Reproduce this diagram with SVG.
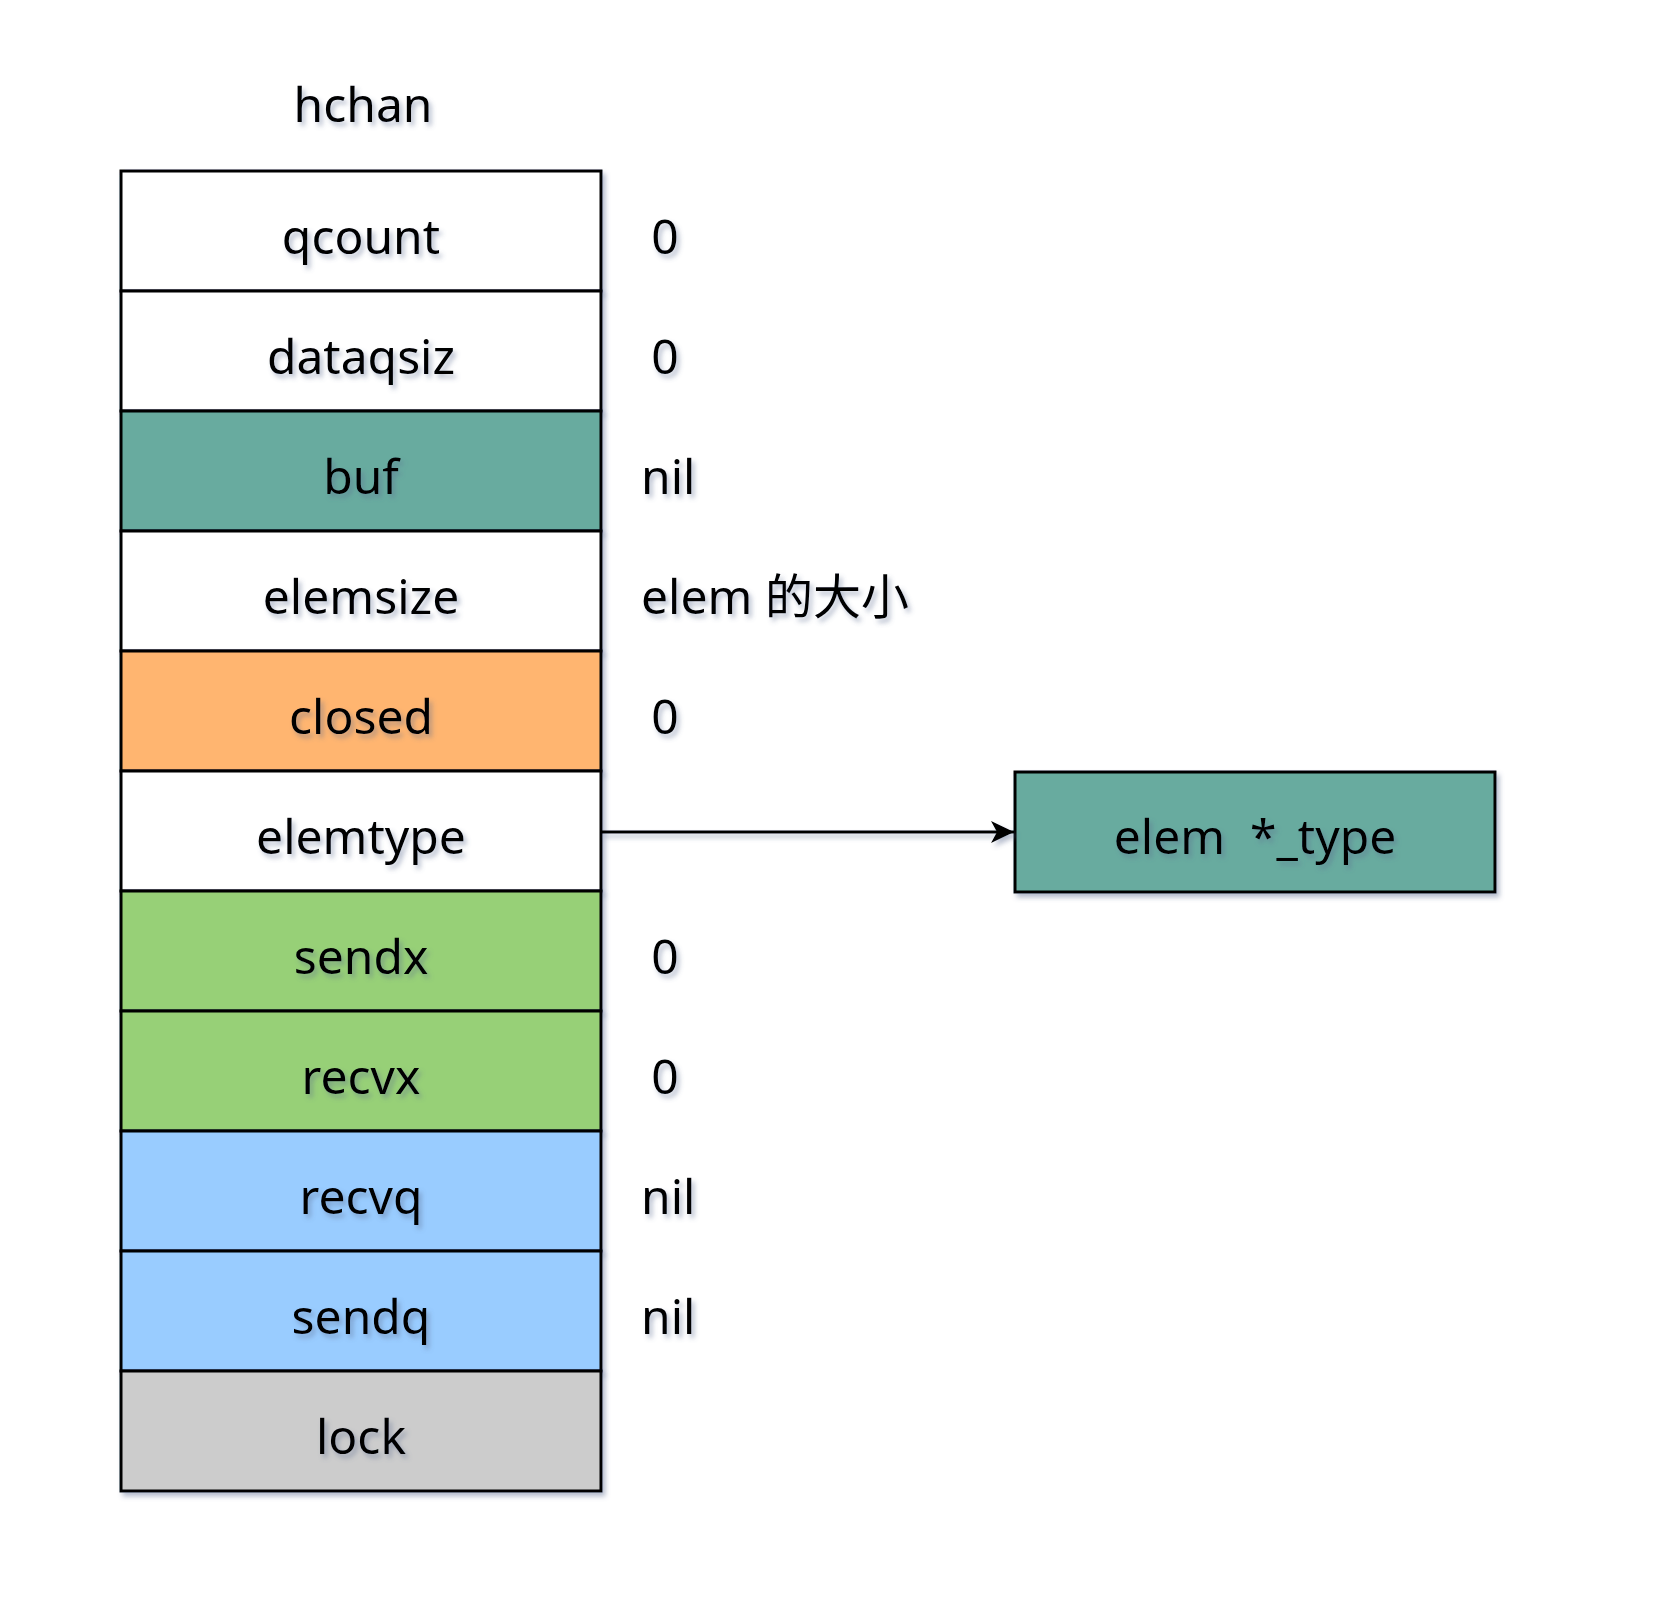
<svg xmlns="http://www.w3.org/2000/svg" width="1656" height="1600" viewBox="0 0 1656 1600">
  <style>
    .cell { stroke: #000000; stroke-width: 3; filter: url(#shade); }
    .lbl { font-family: "Comic Sans MS", "Noto Sans", "Noto Sans CJK SC", sans-serif; font-size: 48px; fill: #000000; filter: url(#shade); }
    .mid { text-anchor: middle; }
    .link { stroke: #000000; stroke-width: 3; fill: none; filter: url(#lineShade); }
  </style>
  <defs>
    <filter id="shade" x="-10%" y="-20%" width="130%" height="150%">
      <feDropShadow dx="3" dy="4" stdDeviation="2.5" flood-color="#5a6a90" flood-opacity="0.45"/>
    </filter>
    <!-- a flat line has a zero-height box, so this shadow uses an absolute region -->
    <filter id="lineShade" filterUnits="userSpaceOnUse" x="580" y="800" width="470" height="70">
      <feDropShadow dx="3" dy="4" stdDeviation="2.5" flood-color="#5a6a90" flood-opacity="0.45"/>
    </filter>
    <marker id="head" markerUnits="userSpaceOnUse" markerWidth="30" markerHeight="26" refX="24" refY="12" orient="auto">
      <path d="M24,12 L1,1 L7,12 L1,23 Z" fill="#000000"/>
    </marker>
  </defs>

  <rect width="1656" height="1600" fill="#ffffff"/>

  <!-- title -->
  <text class="lbl mid" x="363" y="122">hchan</text>

  <!-- hchan fields -->
  <g id="qcount"><rect class="cell" x="121" y="171" width="480" height="120" fill="#ffffff"/><text class="lbl mid" x="361" y="254">qcount</text></g>
  <g id="dataqsiz"><rect class="cell" x="121" y="291" width="480" height="120" fill="#ffffff"/><text class="lbl mid" x="361" y="374">dataqsiz</text></g>
  <g id="buf"><rect class="cell" x="121" y="411" width="480" height="120" fill="#67AB9F"/><text class="lbl mid" x="361" y="494">buf</text></g>
  <g id="elemsize"><rect class="cell" x="121" y="531" width="480" height="120" fill="#ffffff"/><text class="lbl mid" x="361" y="614">elemsize</text></g>
  <g id="closed"><rect class="cell" x="121" y="651" width="480" height="120" fill="#FFB570"/><text class="lbl mid" x="361" y="734">closed</text></g>
  <g id="elemtype"><rect class="cell" x="121" y="771" width="480" height="120" fill="#ffffff"/><text class="lbl mid" x="361" y="854">elemtype</text></g>
  <g id="sendx"><rect class="cell" x="121" y="891" width="480" height="120" fill="#97D077"/><text class="lbl mid" x="361" y="974">sendx</text></g>
  <g id="recvx"><rect class="cell" x="121" y="1011" width="480" height="120" fill="#97D077"/><text class="lbl mid" x="361" y="1094">recvx</text></g>
  <g id="recvq"><rect class="cell" x="121" y="1131" width="480" height="120" fill="#99CCFF"/><text class="lbl mid" x="361" y="1214">recvq</text></g>
  <g id="sendq"><rect class="cell" x="121" y="1251" width="480" height="120" fill="#99CCFF"/><text class="lbl mid" x="361" y="1334">sendq</text></g>
  <g id="lock"><rect class="cell" x="121" y="1371" width="480" height="120" fill="#CCCCCC"/><text class="lbl mid" x="361" y="1454">lock</text></g>

  <!-- field values -->
  <g id="values">
    <text class="lbl mid" x="665" y="254">0</text>
    <text class="lbl mid" x="665" y="374">0</text>
    <text class="lbl" x="641" y="494">nil</text>
    <text class="lbl" x="641" y="614">elem 的大小</text>
    <text class="lbl mid" x="665" y="734">0</text>
    <text class="lbl mid" x="665" y="974">0</text>
    <text class="lbl mid" x="665" y="1094">0</text>
    <text class="lbl" x="641" y="1214">nil</text>
    <text class="lbl" x="641" y="1334">nil</text>
  </g>

  <!-- element type -->
  <g id="elem-type"><rect class="cell" x="1015" y="772" width="480" height="120" fill="#67AB9F"/><text class="lbl mid" x="1255" y="854" xml:space="preserve">elem  *_type</text></g>

  <!-- connectors -->
  <g id="connectors">
    <path class="link" d="M601,832 L1014,832" marker-end="url(#head)"/>
  </g>
</svg>
